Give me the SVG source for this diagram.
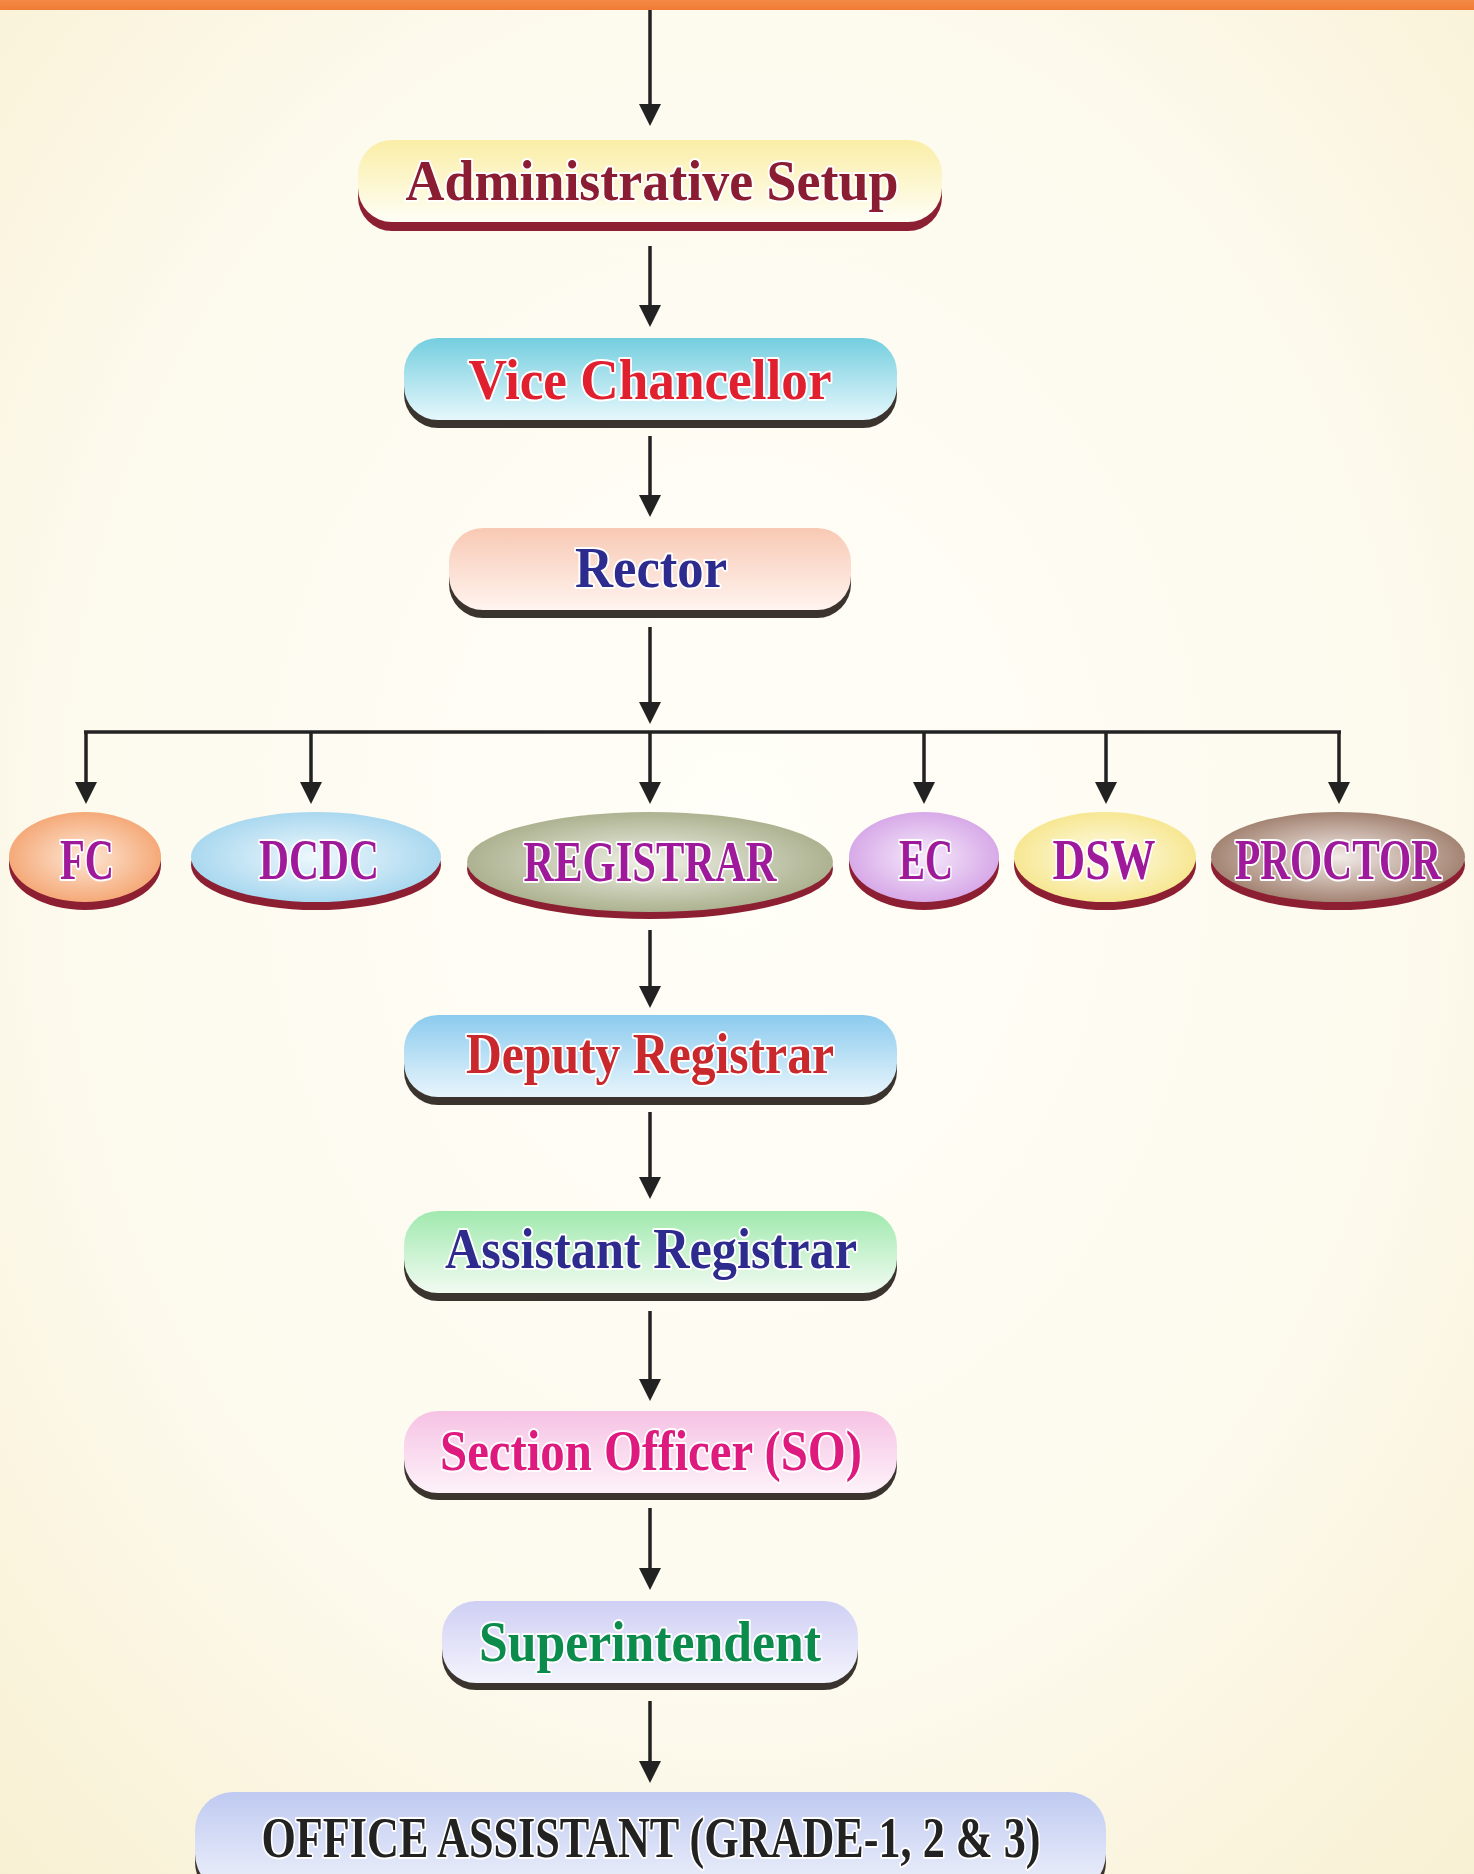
<svg xmlns="http://www.w3.org/2000/svg" width="1474" height="1874" viewBox="0 0 1474 1874">
<defs>
<radialGradient id="bg" cx="50%" cy="45%" r="75%">
<stop offset="0" stop-color="#FFFEF8"/>
<stop offset="0.6" stop-color="#FDFAEE"/>
<stop offset="1" stop-color="#F8F0D2"/>
</radialGradient>
<linearGradient id="topbar" x1="0" y1="0" x2="0" y2="1">
<stop offset="0" stop-color="#F48A45"/>
<stop offset="1" stop-color="#F07B35"/>
</linearGradient>
<linearGradient id="gAdmin" x1="0" y1="0" x2="0" y2="1"><stop offset="0" stop-color="#FAEEA6"/><stop offset="1" stop-color="#FFFEF6"/></linearGradient>
<linearGradient id="gVC" x1="0" y1="0" x2="0" y2="1"><stop offset="0" stop-color="#74CEDF"/><stop offset="1" stop-color="#E6F7FC"/></linearGradient>
<linearGradient id="gRector" x1="0" y1="0" x2="0" y2="1"><stop offset="0" stop-color="#F8C9B4"/><stop offset="1" stop-color="#FFF4EF"/></linearGradient>
<linearGradient id="gDeputy" x1="0" y1="0" x2="0" y2="1"><stop offset="0" stop-color="#8CCBEE"/><stop offset="1" stop-color="#E8F5FC"/></linearGradient>
<linearGradient id="gAsst" x1="0" y1="0" x2="0" y2="1"><stop offset="0" stop-color="#A0E9AE"/><stop offset="1" stop-color="#F2FBF2"/></linearGradient>
<linearGradient id="gSO" x1="0" y1="0" x2="0" y2="1"><stop offset="0" stop-color="#F6C2E4"/><stop offset="1" stop-color="#FDF2F9"/></linearGradient>
<linearGradient id="gSup" x1="0" y1="0" x2="0" y2="1"><stop offset="0" stop-color="#CFCFF4"/><stop offset="1" stop-color="#F4F4FD"/></linearGradient>
<linearGradient id="gOffice" x1="0" y1="0" x2="0" y2="1"><stop offset="0" stop-color="#BFCAF1"/><stop offset="1" stop-color="#EEF1FB"/></linearGradient>
<radialGradient id="eFC" cx="50%" cy="50%" r="55%"><stop offset="0" stop-color="#FDE8D6"/><stop offset="1" stop-color="#F4A36F"/></radialGradient>
<radialGradient id="eDCDC" cx="50%" cy="50%" r="55%"><stop offset="0" stop-color="#EEF8FD"/><stop offset="1" stop-color="#A3D5EE"/></radialGradient>
<radialGradient id="eREG" cx="50%" cy="50%" r="55%"><stop offset="0" stop-color="#F0F1E6"/><stop offset="1" stop-color="#A6AC88"/></radialGradient>
<radialGradient id="eEC" cx="50%" cy="50%" r="55%"><stop offset="0" stop-color="#F6EAFB"/><stop offset="1" stop-color="#D4A3E6"/></radialGradient>
<radialGradient id="eDSW" cx="50%" cy="50%" r="55%"><stop offset="0" stop-color="#FFFCEA"/><stop offset="1" stop-color="#F6E58A"/></radialGradient>
<radialGradient id="ePRO" cx="50%" cy="50%" r="55%"><stop offset="0" stop-color="#F3ECE8"/><stop offset="1" stop-color="#9C7A68"/></radialGradient>
<marker id="arrow" markerUnits="userSpaceOnUse" markerWidth="22" markerHeight="22" viewBox="0 0 22 22" refX="12" refY="11" orient="auto">
<path d="M0,0 L22,11 L0,22 Z" fill="#222"/>
</marker>
</defs>
<style>
.ln{stroke:#222;stroke-width:3.5;fill:none}
.arr{stroke:#222;stroke-width:3.5;fill:none;marker-end:url(#arrow)}
.shadowD{fill:#3B332E}
.shadowR{fill:#8C1F31}
.t{font-family:"Liberation Serif","DejaVu Serif",serif;font-weight:bold;font-size:57px;text-anchor:middle;stroke:#FFFFFF;stroke-width:4;stroke-linejoin:round;paint-order:stroke}
.te{fill:#9E1A9A}
</style>
<rect x="0" y="0" width="1474" height="1874" fill="url(#bg)"/>
<rect x="0" y="0" width="1474" height="10" fill="url(#topbar)"/>

<g id="connectors">
<line class="arr" x1="650" y1="10" x2="650" y2="116"/>
<line class="arr" x1="650" y1="246" x2="650" y2="317"/>
<line class="arr" x1="650" y1="436" x2="650" y2="507"/>
<line class="arr" x1="650" y1="627" x2="650" y2="714"/>
<line class="ln" x1="84" y1="732" x2="1341" y2="732"/>
<line class="arr" x1="86" y1="732" x2="86" y2="794"/>
<line class="arr" x1="311" y1="732" x2="311" y2="794"/>
<line class="arr" x1="650" y1="732" x2="650" y2="794"/>
<line class="arr" x1="924" y1="732" x2="924" y2="794"/>
<line class="arr" x1="1106" y1="732" x2="1106" y2="794"/>
<line class="arr" x1="1339" y1="732" x2="1339" y2="794"/>
<line class="arr" x1="650" y1="930" x2="650" y2="998"/>
<line class="arr" x1="650" y1="1112" x2="650" y2="1189"/>
<line class="arr" x1="650" y1="1311" x2="650" y2="1391"/>
<line class="arr" x1="650" y1="1508" x2="650" y2="1580"/>
<line class="arr" x1="650" y1="1701" x2="650" y2="1773"/>
</g>

<g id="node-admin">
<rect class="shadowR" x="358" y="149" width="584" height="82" rx="34"/>
<rect x="358" y="140" width="584" height="82" rx="34" fill="url(#gAdmin)"/>
<text class="t" x="652" y="200" fill="#8B1D33" textLength="493" lengthAdjust="spacingAndGlyphs">Administrative Setup</text>
</g>

<g id="node-vc">
<rect class="shadowD" x="404" y="346" width="493" height="82" rx="34"/>
<rect x="404" y="338" width="493" height="82" rx="34" fill="url(#gVC)"/>
<text class="t" x="650" y="399" fill="#E0202F" textLength="363" lengthAdjust="spacingAndGlyphs">Vice Chancellor</text>
</g>

<g id="node-rector">
<rect class="shadowD" x="449" y="536" width="402" height="82" rx="34"/>
<rect x="449" y="528" width="402" height="82" rx="34" fill="url(#gRector)"/>
<text class="t" x="651" y="587" fill="#2D2C8E" textLength="152" lengthAdjust="spacingAndGlyphs">Rector</text>
</g>

<g id="node-fc">
<ellipse class="shadowR" cx="85" cy="865" rx="76" ry="45"/>
<ellipse cx="85" cy="857" rx="76" ry="45" fill="url(#eFC)"/>
<text class="t te" x="87" y="879" textLength="54" lengthAdjust="spacingAndGlyphs">FC</text>
</g>

<g id="node-dcdc">
<ellipse class="shadowR" cx="316" cy="865" rx="125" ry="45"/>
<ellipse cx="316" cy="857" rx="125" ry="45" fill="url(#eDCDC)"/>
<text class="t te" x="319" y="879" textLength="120" lengthAdjust="spacingAndGlyphs">DCDC</text>
</g>

<g id="node-registrar">
<ellipse class="shadowR" cx="650" cy="869" rx="183" ry="50"/>
<ellipse cx="650" cy="862" rx="183" ry="50" fill="url(#eREG)"/>
<text class="t te" x="650" y="881" textLength="253" lengthAdjust="spacingAndGlyphs">REGISTRAR</text>
</g>

<g id="node-ec">
<ellipse class="shadowR" cx="924" cy="865" rx="75" ry="45"/>
<ellipse cx="924" cy="857" rx="75" ry="45" fill="url(#eEC)"/>
<text class="t te" x="926" y="879" textLength="54" lengthAdjust="spacingAndGlyphs">EC</text>
</g>

<g id="node-dsw">
<ellipse class="shadowR" cx="1105" cy="865" rx="91" ry="45"/>
<ellipse cx="1105" cy="857" rx="91" ry="45" fill="url(#eDSW)"/>
<text class="t te" x="1104" y="879" textLength="103" lengthAdjust="spacingAndGlyphs">DSW</text>
</g>

<g id="node-proctor">
<ellipse class="shadowR" cx="1338" cy="865" rx="127" ry="45"/>
<ellipse cx="1338" cy="857" rx="127" ry="45" fill="url(#ePRO)"/>
<text class="t te" x="1338" y="879" textLength="206" lengthAdjust="spacingAndGlyphs">PROCTOR</text>
</g>

<g id="node-deputy">
<rect class="shadowD" x="404" y="1023" width="493" height="82" rx="34"/>
<rect x="404" y="1015" width="493" height="82" rx="34" fill="url(#gDeputy)"/>
<text class="t" x="650" y="1073" fill="#C9282C" textLength="368" lengthAdjust="spacingAndGlyphs">Deputy Registrar</text>
</g>

<g id="node-assistant">
<rect class="shadowD" x="404" y="1219" width="493" height="82" rx="34"/>
<rect x="404" y="1211" width="493" height="82" rx="34" fill="url(#gAsst)"/>
<text class="t" x="651" y="1268" fill="#2D2C8E" textLength="412" lengthAdjust="spacingAndGlyphs">Assistant Registrar</text>
</g>

<g id="node-so">
<rect class="shadowD" x="404" y="1418" width="493" height="82" rx="34"/>
<rect x="404" y="1411" width="493" height="82" rx="34" fill="url(#gSO)"/>
<text class="t" x="651" y="1470" fill="#DE1A7F" textLength="422" lengthAdjust="spacingAndGlyphs">Section Officer (SO)</text>
</g>

<g id="node-superintendent">
<rect class="shadowD" x="442" y="1608" width="416" height="82" rx="34"/>
<rect x="442" y="1601" width="416" height="82" rx="34" fill="url(#gSup)"/>
<text class="t" x="650" y="1661" fill="#0B8C4C" textLength="342" lengthAdjust="spacingAndGlyphs">Superintendent</text>
</g>

<g id="node-office">
<rect class="shadowD" x="195" y="1800" width="911" height="100" rx="38"/>
<rect x="195" y="1792" width="911" height="100" rx="38" fill="url(#gOffice)"/>
<text class="t" x="651" y="1857" fill="#222222" textLength="779" lengthAdjust="spacingAndGlyphs">OFFICE ASSISTANT (GRADE-1, 2 &amp; 3)</text>
</g>
</svg>
